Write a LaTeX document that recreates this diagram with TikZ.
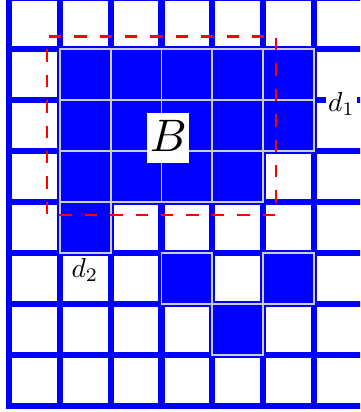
\documentclass[tikz,border=0pt]{standalone}
\usepackage{graphicx}
\begin{document}
\begin{tikzpicture}[x=50.83pt,y=-51pt,
  gridline/.style={blue,line width=6.3pt},
  filledcell/.style={fill=blue,draw=gray!40,line width=1.8pt},
  region/.style={red,line width=2.6pt,dash pattern=on 12.5pt off 12.9pt,dash phase=12.5pt},
  bigtag/.style={fill=white,inner xsep=2.7pt,inner ysep=0pt,text height=37.8pt,text depth=12.2pt,anchor=base},
  tag/.style={fill=white,inner sep=2pt,anchor=base}]
\useasboundingbox (-0.1771,0.0353) rectangle (6.9054,8.1137);
\clip (-0.1771,0.0353) rectangle (6.9054,8.1137);
% grid
\foreach \i in {1,...,6} \draw[gridline] (\i,0) -- (\i,8);
\foreach \j in {1,...,7} \draw[gridline] (0,\j) -- (7,\j);
\draw[gridline] (0,0) rectangle (7,8);
% filled cells
\foreach \c/\r in {1/1,2/1,3/1,4/1,5/1,1/2,2/2,3/2,4/2,5/2,1/3,2/3,3/3,4/3,1/4,3/5,5/5,4/6}
  \draw[filledcell] (\c,\r) rectangle ++(1,1);
% dashed region
\draw[region] (0.75,0.75) rectangle (5.25,4.25);
% labels
\node[bigtag] (B) at (3.134,2.996) {\scalebox{4.56}{$B$}};
\node[tag] (d1) at (6.54,2.222) {\scalebox{2.75}{$d_1$}};
\node[tag] (d2) at (1.495,5.467) {\scalebox{2.75}{$d_2$}};
\end{tikzpicture}
\end{document}
